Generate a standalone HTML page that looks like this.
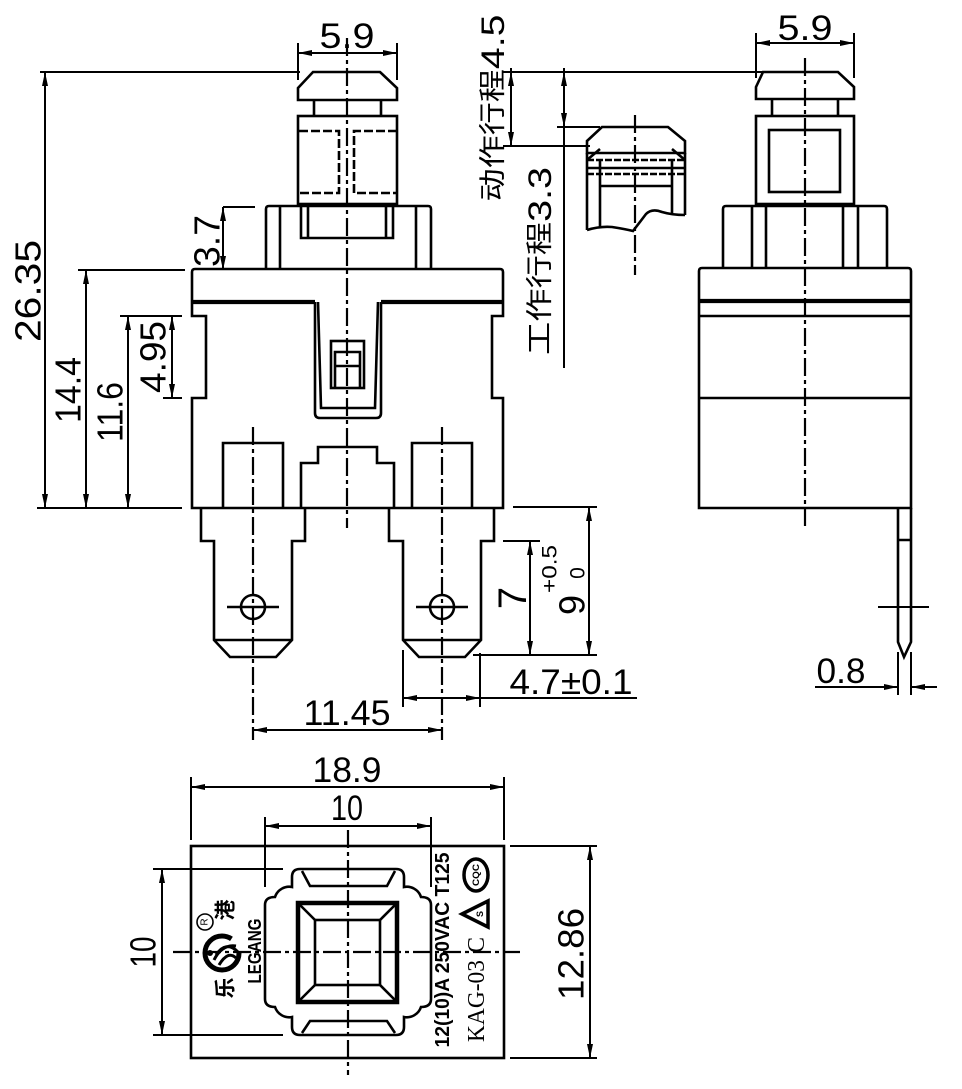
<!DOCTYPE html>
<html><head><meta charset="utf-8"><style>
html,body{margin:0;padding:0;background:#fff;}
svg{display:block;}
text{font-family:"Liberation Sans","Noto Sans CJK SC",sans-serif;fill:#000;}
</style></head><body>
<svg width="962" height="1089" viewBox="0 0 962 1089" xmlns="http://www.w3.org/2000/svg">
<defs>
<marker id="a" markerUnits="userSpaceOnUse" markerWidth="16" markerHeight="8" refX="14" refY="4" orient="auto-start-reverse"><path d="M0,1 L14,4 L0,7 Z" fill="#000"/></marker>
</defs>
<rect width="962" height="1089" fill="#fff"/>

<!-- ========== FRONT VIEW OUTLINES ========== -->
<g fill="none" stroke="#000" stroke-width="2.6">
<path d="M313,72 H380 L397,88 V100 H298 V88 Z"/>
<path d="M314,100 V116 M381,100 V116"/>
<rect x="298" y="116" width="99" height="88"/>
<path d="M299,131 H339 V193 H299 M397,131 H354 V193 H397" stroke-dasharray="9 3"/>
<path d="M266,269 V209 Q266,206 269,206 H428 Q431,206 431,209 V269"/>
<path d="M280,206 V269 M416,206 V269"/>
<path d="M301,206 V238 H393 V206 M308,206 V238 M386,206 V238"/>
<path d="M192,302 V272 Q192,269 195,269 H500 Q503,269 503,272 V302"/>
<path d="M192,302 H315 M381,302 H503" stroke-width="4.2"/>
<path d="M192,302 V316 H206 V398 H192 V508 H503 V398 H492 V316 H503 V302"/>
<path d="M315,302 V413 Q315,418 320,418 H376 Q381,418 381,413 V302"/>
<path d="M318,302 L321,408 H375 L378,302"/>
<rect x="331" y="341" width="33" height="47"/>
<path d="M335,388 V352 H360 V388 M335,366 H360"/>
<path d="M223,508 V443 H283 V508"/>
<path d="M301,508 V463 H318 V447 H377 V463 H394 V508"/>
<path d="M412,508 V443 H472 V508"/>
<path d="M201,508 V541 H214 V640 L230,657 H276 L292,640 V541 H305 V508 M214,640 H292"/>
<path d="M389,508 V541 H403 V640 L419,657 H465 L481,640 V541 H494 V508 M403,640 H481"/>
<circle cx="253" cy="607" r="12"/>
<circle cx="442" cy="607" r="12"/>
<path d="M227,607 H279 M416,607 H468"/>
</g>

<!-- center lines -->
<g fill="none" stroke="#000" stroke-width="2.2" stroke-dasharray="18 4 4 4">
<line x1="347" y1="38" x2="347" y2="528"/>
<line x1="253" y1="427" x2="253" y2="740"/>
<line x1="442" y1="427" x2="442" y2="740"/>
<line x1="805" y1="58" x2="805" y2="527"/>
<line x1="635" y1="115" x2="635" y2="275"/>
<line x1="173" y1="952" x2="520" y2="952"/>
<line x1="348" y1="830" x2="348" y2="1075"/>
</g>

<!-- ========== FRONT DIMENSIONS ========== -->
<g fill="none" stroke="#000" stroke-width="2">
<line x1="298" y1="43" x2="298" y2="80"/>
<line x1="397" y1="43" x2="397" y2="80"/>
<line x1="298" y1="53" x2="397" y2="53" marker-start="url(#a)" marker-end="url(#a)"/>

<line x1="40" y1="72" x2="300" y2="72"/>
<line x1="45" y1="72" x2="45" y2="508" marker-start="url(#a)" marker-end="url(#a)"/>
<line x1="37" y1="508" x2="182" y2="508"/>

<line x1="78" y1="270" x2="185" y2="270"/>
<line x1="86" y1="270" x2="86" y2="508" marker-start="url(#a)" marker-end="url(#a)"/>

<line x1="120" y1="316" x2="182" y2="316"/>
<line x1="128" y1="316" x2="128" y2="508" marker-start="url(#a)" marker-end="url(#a)"/>

<line x1="163" y1="398" x2="182" y2="398"/>
<line x1="172" y1="316" x2="172" y2="398" marker-start="url(#a)" marker-end="url(#a)"/>

<line x1="223" y1="207" x2="255" y2="207"/>
<line x1="223" y1="207" x2="223" y2="270" marker-start="url(#a)" marker-end="url(#a)"/>

<line x1="513" y1="507" x2="597" y2="507"/>
<line x1="589" y1="507" x2="589" y2="655" marker-start="url(#a)" marker-end="url(#a)"/>
<line x1="473" y1="655" x2="597" y2="655"/>
<line x1="503" y1="541" x2="540" y2="541"/>
<line x1="530" y1="541" x2="530" y2="655" marker-start="url(#a)" marker-end="url(#a)"/>

<line x1="403" y1="650" x2="403" y2="707"/>
<line x1="480" y1="653" x2="480" y2="707"/>
<line x1="403" y1="698" x2="480" y2="698" marker-start="url(#a)" marker-end="url(#a)"/>
<line x1="480" y1="698" x2="637" y2="698"/>

<line x1="253" y1="730" x2="442" y2="730" marker-start="url(#a)" marker-end="url(#a)"/>
</g>

<!-- ========== RIGHT VIEW ========== -->
<g fill="none" stroke="#000" stroke-width="2.6">
<path d="M763,72 H838 L854,87 V99 H756 V87 Z"/>
<path d="M772,99 V116 M838,99 V116"/>
<rect x="756" y="116" width="98" height="88"/>
<rect x="769" y="130" width="71" height="62"/>
<path d="M723,268 V209 Q723,206 726,206 H884 Q887,206 887,209 V268"/>
<path d="M752,206 V268 M766,206 V268 M843,206 V268 M858,206 V268"/>
<path d="M699,508 V271 Q699,268 702,268 H908 Q911,268 911,271 V508 Z"/>
<line x1="699" y1="301" x2="911" y2="301" stroke-width="4.2"/>
<path d="M699,316 H911 M699,398 H911"/>
<path d="M898,508 V642 L904,657 L911,642 V508 M898,540 H911"/>
<line x1="878" y1="607" x2="929" y2="607" stroke-width="2"/>
</g>
<g fill="none" stroke="#000" stroke-width="2">
<line x1="756" y1="33" x2="756" y2="78"/>
<line x1="854" y1="33" x2="854" y2="78"/>
<line x1="756" y1="43" x2="854" y2="43" marker-start="url(#a)" marker-end="url(#a)"/>
<line x1="898" y1="652" x2="898" y2="695"/>
<line x1="911" y1="652" x2="911" y2="695"/>
<line x1="815" y1="687" x2="898" y2="687" marker-end="url(#a)"/>
<line x1="937" y1="687" x2="911" y2="687" marker-end="url(#a)"/>

<!-- travel dims -->
<line x1="503" y1="72" x2="762" y2="72"/>
<line x1="511" y1="68" x2="511" y2="72"/>
<line x1="511" y1="72" x2="511" y2="146" marker-start="url(#a)" marker-end="url(#a)"/>
<line x1="503" y1="146" x2="590" y2="146"/>
<line x1="564" y1="68" x2="564" y2="72"/>
<line x1="564" y1="72" x2="564" y2="127" marker-start="url(#a)" marker-end="url(#a)"/>
<line x1="564" y1="127" x2="564" y2="368"/>
<line x1="557" y1="127" x2="600" y2="127"/>
</g>

<!-- pressed cap detail -->
<g fill="none" stroke="#000" stroke-width="2.6">
<path d="M602,127 H668 L685,141 V153 H587 V141 Z"/>
<path d="M587,153 V230 M685,153 V215"/>
<path d="M587,160 L600,149 M685,160 L672,149"/>
<path d="M587,160 H685" stroke-dasharray="7 2"/>
<path d="M587,168 H685"/>
<path d="M587,174 H685" stroke-dasharray="7 2"/>
<path d="M600,160 V228 M672,160 V213 M600,186 H672"/>
<path d="M587,230 Q600,226 612,227 Q625,229 633,231 Q640,222 646,214 Q652,208 662,212 Q672,215 685,215"/>
</g>

<!-- ========== BOTTOM VIEW ========== -->
<g fill="none" stroke="#000" stroke-width="2.6">
<rect x="191" y="846" width="313" height="212"/>
<path d="M396,869 H300 Q292,869 292,877 L292,887 A15,15 0 0 0 275,897 Q265,897 265,905 L265,999 Q265,1007 275,1007 A15,15 0 0 0 292,1017 L292,1027 Q292,1035 300,1035 L396,1035 Q404,1035 404,1027 L404,1017 A15,15 0 0 0 421,1007 Q431,1007 431,999 L431,905 Q431,897 421,897 A15,15 0 0 0 404,887 L404,877 Q404,869 396,869 Z"/>
<path d="M302,871 L310,886 H387 L395,871"/>
<path d="M302,1033 L310,1021 H387 L395,1033"/>
<rect x="298" y="903" width="99" height="99" stroke-width="4.5"/>
<rect x="315" y="920" width="65" height="65"/>
<path d="M300,905 L315,920 M395,905 L380,920 M300,1000 L315,985 M395,1000 L380,985"/>
</g>
<g fill="none" stroke="#000" stroke-width="2">
<line x1="191" y1="777" x2="191" y2="840"/>
<line x1="504" y1="777" x2="504" y2="840"/>
<line x1="191" y1="787" x2="504" y2="787" marker-start="url(#a)" marker-end="url(#a)"/>
<line x1="265" y1="817" x2="265" y2="887"/>
<line x1="431" y1="817" x2="431" y2="887"/>
<line x1="265" y1="826" x2="431" y2="826" marker-start="url(#a)" marker-end="url(#a)"/>
<line x1="153" y1="869" x2="283" y2="869"/>
<line x1="153" y1="1035" x2="283" y2="1035"/>
<line x1="162" y1="869" x2="162" y2="1035" marker-start="url(#a)" marker-end="url(#a)"/>
<line x1="510" y1="846" x2="597" y2="846"/>
<line x1="510" y1="1058" x2="597" y2="1058"/>
<line x1="590" y1="846" x2="590" y2="1058" marker-start="url(#a)" marker-end="url(#a)"/>
</g>

<!-- markings -->
<ellipse cx="476" cy="875" rx="12" ry="16" fill="none" stroke="#000" stroke-width="3.5"/>
<text transform="translate(476,875) rotate(-90)" text-anchor="middle" dominant-baseline="central" font-size="9" font-weight="bold" textLength="22" lengthAdjust="spacingAndGlyphs">CQC</text>
<polygon points="462,914 488,901 488,927" fill="none" stroke="#000" stroke-width="3.5" stroke-linejoin="miter"/>
<text transform="translate(480,914) rotate(-90)" text-anchor="middle" dominant-baseline="central" font-size="9" font-weight="bold">S</text>

<circle cx="205" cy="922" r="8" fill="none" stroke="#000" stroke-width="1.6"/>
<text transform="translate(205,922) rotate(-90)" text-anchor="middle" dominant-baseline="central" font-size="10">R</text>
<circle cx="222" cy="953" r="17" fill="none" stroke="#000" stroke-width="5" stroke-dasharray="90 17"/>
<path d="M214,960 Q222,944 236,946 M216,955 Q226,940 238,952 M219,965 Q228,950 236,958" fill="none" stroke="#000" stroke-width="3"/>
<circle cx="210" cy="953" r="3" fill="#000"/>

<!-- ========== TEXT ========== -->
<g font-size="35">
<text x="347" y="48" text-anchor="middle" textLength="55" lengthAdjust="spacingAndGlyphs">5.9</text>
<text x="805" y="40" text-anchor="middle" textLength="55" lengthAdjust="spacingAndGlyphs">5.9</text>
<text x="347" y="725" text-anchor="middle" textLength="87" lengthAdjust="spacingAndGlyphs">11.45</text>
<text x="571" y="694" text-anchor="middle" textLength="123" lengthAdjust="spacingAndGlyphs">4.7±0.1</text>
<text x="841" y="683" text-anchor="middle" textLength="49" lengthAdjust="spacingAndGlyphs">0.8</text>
<text x="347" y="782" text-anchor="middle" textLength="69" lengthAdjust="spacingAndGlyphs">18.9</text>
<text x="347" y="820" text-anchor="middle" textLength="32" lengthAdjust="spacingAndGlyphs">10</text>
</g>
<g font-size="36" text-anchor="middle" dominant-baseline="central">
<text transform="translate(28,291) rotate(-90)" textLength="102" lengthAdjust="spacingAndGlyphs">26.35</text>
<text transform="translate(68,390) rotate(-90)" textLength="66" lengthAdjust="spacingAndGlyphs">14.4</text>
<text transform="translate(110,412) rotate(-90)" textLength="60" lengthAdjust="spacingAndGlyphs">11.6</text>
<text transform="translate(153,357) rotate(-90)" textLength="72" lengthAdjust="spacingAndGlyphs">4.95</text>
<text transform="translate(207,241) rotate(-90)" textLength="52" lengthAdjust="spacingAndGlyphs">3.7</text>
<text transform="translate(513,598) rotate(-90)" font-size="40">7</text>
<text transform="translate(572,605) rotate(-90)">9</text>
<text transform="translate(550,569) rotate(-90)" font-size="21" textLength="48" lengthAdjust="spacingAndGlyphs">+0.5</text>
<text transform="translate(578,573) rotate(-90)" font-size="21">0</text>
<text transform="translate(143,952) rotate(-90)" textLength="31" lengthAdjust="spacingAndGlyphs">10</text>
<text transform="translate(571,954) rotate(-90)" textLength="92" lengthAdjust="spacingAndGlyphs">12.86</text>
<text transform="translate(493,108) rotate(-90)" font-size="27" textLength="187" lengthAdjust="spacingAndGlyphs">动作行程<tspan font-size="32">4.5</tspan></text>
<text transform="translate(540,261) rotate(-90)" font-size="27" textLength="188" lengthAdjust="spacingAndGlyphs">工作行程<tspan font-size="32">3.3</tspan></text>

<text transform="translate(443,950) rotate(-90)" font-size="20" font-weight="bold" textLength="195" lengthAdjust="spacingAndGlyphs">12(10)A 250VAC T125</text>
<text transform="translate(477,1001) rotate(-90)" font-size="24" style="font-family:'Liberation Serif',serif" textLength="82" lengthAdjust="spacingAndGlyphs">KAG-03</text>
<text transform="translate(477,945) rotate(-90)" font-size="24" style="font-family:'Liberation Serif',serif">C</text>
<text transform="translate(255,951) rotate(-90)" font-size="18" font-weight="bold" textLength="65" lengthAdjust="spacingAndGlyphs">LEGANG</text>
<text transform="translate(226,988) rotate(-90)" font-size="21" font-weight="bold">乐</text>
<text transform="translate(226,910) rotate(-90)" font-size="21" font-weight="bold">港</text>
</g>
</svg>
</body></html>
